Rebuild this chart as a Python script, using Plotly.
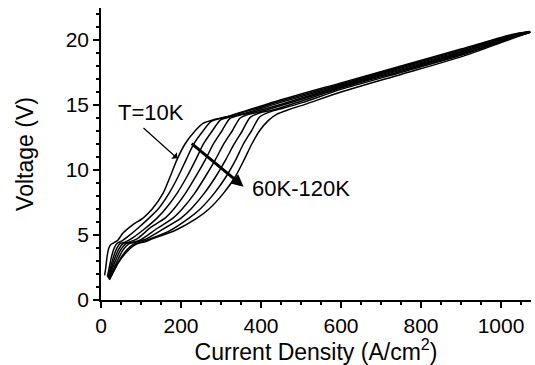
import plotly.graph_objects as go

# Current density (A/cm^2) and voltage (V), one list per temperature
labels = ["10K", "60K", "70K", "80K", "90K", "100K", "110K", "120K"]

x_10K = [9, 12, 15, 19, 24, 32, 42, 55, 80, 105, 128, 155, 173, 190, 210, 235, 256, 285, 315, 450, 600, 750, 900, 1000, 1040, 1073]
v_10K = [1.9, 2.5, 3.3, 3.95, 4.25, 4.4, 4.6, 5.15, 5.8, 6.3, 7.0, 8.2, 9.5, 10.8, 12.0, 13.0, 13.6, 13.9, 14.1, 15.4, 16.7, 18.0, 19.3, 20.2, 20.5, 20.65]

x_60K = [16, 20, 26, 33, 40, 50, 70, 95, 120, 143, 170, 193, 213, 232, 255, 276, 300, 330, 450, 600, 750, 900, 1000, 1040, 1073]
v_60K = [1.8, 2.4, 3.3, 4.0, 4.35, 4.5, 4.95, 5.6, 6.3, 7.0, 8.2, 9.5, 10.8, 12.0, 13.0, 13.75, 13.98, 14.2, 15.3, 16.62, 17.92, 19.22, 20.15, 20.47, 20.64]

x_70K = [17, 22, 30, 39, 48, 60, 80, 110, 140, 161, 190, 215, 237, 256, 278, 299, 322, 352, 450, 600, 750, 900, 1000, 1040, 1073]
v_70K = [1.75, 2.3, 3.2, 3.95, 4.35, 4.45, 4.8, 5.5, 6.3, 7.0, 8.2, 9.5, 10.8, 12.0, 13.0, 13.85, 14.08, 14.3, 15.2, 16.54, 17.84, 19.14, 20.1, 20.44, 20.63]

x_80K = [18, 24, 33, 44, 56, 70, 90, 125, 160, 182, 211, 237, 261, 281, 302, 322, 346, 374, 455, 600, 750, 900, 1000, 1040, 1073]
v_80K = [1.7, 2.25, 3.1, 3.9, 4.35, 4.45, 4.7, 5.6, 6.3, 7.0, 8.2, 9.5, 10.8, 12.0, 13.0, 13.95, 14.2, 14.4, 15.1, 16.46, 17.76, 19.06, 20.04, 20.4, 20.62]

x_90K = [19, 26, 36, 49, 64, 80, 100, 140, 180, 203, 234, 261, 286, 307, 328, 348, 372, 400, 465, 600, 750, 900, 1000, 1040, 1073]
v_90K = [1.65, 2.2, 3.0, 3.85, 4.35, 4.45, 4.65, 5.5, 6.3, 7.0, 8.2, 9.5, 10.8, 12.0, 13.0, 14.0, 14.3, 14.5, 15.1, 16.38, 17.68, 18.98, 19.98, 20.36, 20.61]

x_100K = [20, 28, 40, 54, 72, 88, 110, 155, 200, 225, 258, 287, 312, 333, 353, 373, 398, 428, 485, 600, 750, 900, 1000, 1040, 1073]
v_100K = [1.6, 2.15, 2.95, 3.8, 4.35, 4.45, 4.65, 5.45, 6.3, 7.0, 8.2, 9.5, 10.8, 12.0, 13.0, 14.05, 14.4, 14.6, 15.15, 16.3, 17.6, 18.9, 19.92, 20.32, 20.6]

x_110K = [21, 30, 43, 60, 82, 98, 118, 170, 220, 248, 283, 313, 337, 356, 376, 397, 425, 455, 505, 600, 750, 900, 1000, 1040, 1073]
v_110K = [1.6, 2.1, 2.9, 3.7, 4.3, 4.42, 4.65, 5.3, 6.3, 7.0, 8.2, 9.5, 10.8, 12.0, 13.0, 14.1, 14.5, 14.75, 15.2, 16.2, 17.5, 18.82, 19.86, 20.28, 20.6]

x_120K = [21, 30, 42, 60, 80, 95, 108, 128, 185, 240, 270, 306, 336, 358, 377, 396, 418, 440, 470, 510, 600, 750, 900, 1000, 1040, 1073]
v_120K = [1.55, 2.1, 2.8, 3.55, 4.15, 4.38, 4.45, 4.7, 5.35, 6.3, 7.0, 8.2, 9.5, 10.8, 12.0, 13.0, 13.8, 14.3, 14.65, 15.05, 16.0, 17.35, 18.7, 19.8, 20.25, 20.6]

xs = [x_10K, x_60K, x_70K, x_80K, x_90K, x_100K, x_110K, x_120K]
vs = [v_10K, v_60K, v_70K, v_80K, v_90K, v_100K, v_110K, v_120K]

x_ticks = [0, 200, 400, 600, 800, 1000]
y_ticks = [0, 5, 10, 15, 20]

FONT = "Liberation Sans, Arial, sans-serif"

fig = go.Figure()
for name, x, v in zip(labels, xs, vs):
    fig.add_trace(go.Scatter(x=x, y=v, mode="lines", name=name,
                             line=dict(color="black", width=1.5, shape="spline", smoothing=0.7),
                             showlegend=False))

axis_common = dict(showline=True, linecolor="black", linewidth=1.5, ticks="outside",
                   ticklen=6, tickwidth=1.5, tickcolor="black", showgrid=False, zeroline=False,
                   tickfont=dict(family=FONT, size=21, color="black"))

fig.update_xaxes(range=[0, 1075], tickvals=x_ticks, **axis_common,
                 minor=dict(ticks="outside", ticklen=3.5, tickwidth=1.5, tickcolor="black", dtick=50, tick0=0),
                 title=dict(text="Current Density (A/cm<sup>2</sup>)", font=dict(family=FONT, size=23, color="black"), standoff=4))
fig.update_yaxes(range=[0, 22.46], tickvals=y_ticks, **axis_common,
                 minor=dict(ticks="outside", ticklen=3.5, tickwidth=1.5, tickcolor="black", dtick=1, tick0=0),
                 title=dict(text="Voltage (V)", font=dict(family=FONT, size=23, color="black"), standoff=26))

fig.add_annotation(x=190.7, y=10.9, ax=102.5, ay=13.33, xref="x", yref="y", axref="x", ayref="y",
                   showarrow=True, arrowhead=1, arrowsize=1.2, arrowwidth=1.2, arrowcolor="black", text="")
fig.add_annotation(x=356.5, y=8.72, ax=223, ay=12.13, xref="x", yref="y", axref="x", ayref="y",
                   showarrow=True, arrowhead=2, arrowsize=0.8, arrowwidth=3, arrowcolor="black", text="")
fig.add_annotation(x=124.5, y=14.4, xref="x", yref="y", text="T=10K", showarrow=False,
                   font=dict(family=FONT, size=22, color="black"), xanchor="center", yanchor="middle")
fig.add_annotation(x=373, y=8.54, xref="x", yref="y", text="60K-120K", showarrow=False,
                   font=dict(family=FONT, size=22, color="black"), xanchor="left", yanchor="middle")

fig.update_layout(width=535, height=365, margin=dict(l=101, r=4, t=8, b=65),
                  paper_bgcolor="white", plot_bgcolor="white", showlegend=False)

fig.write_html("out.html")
